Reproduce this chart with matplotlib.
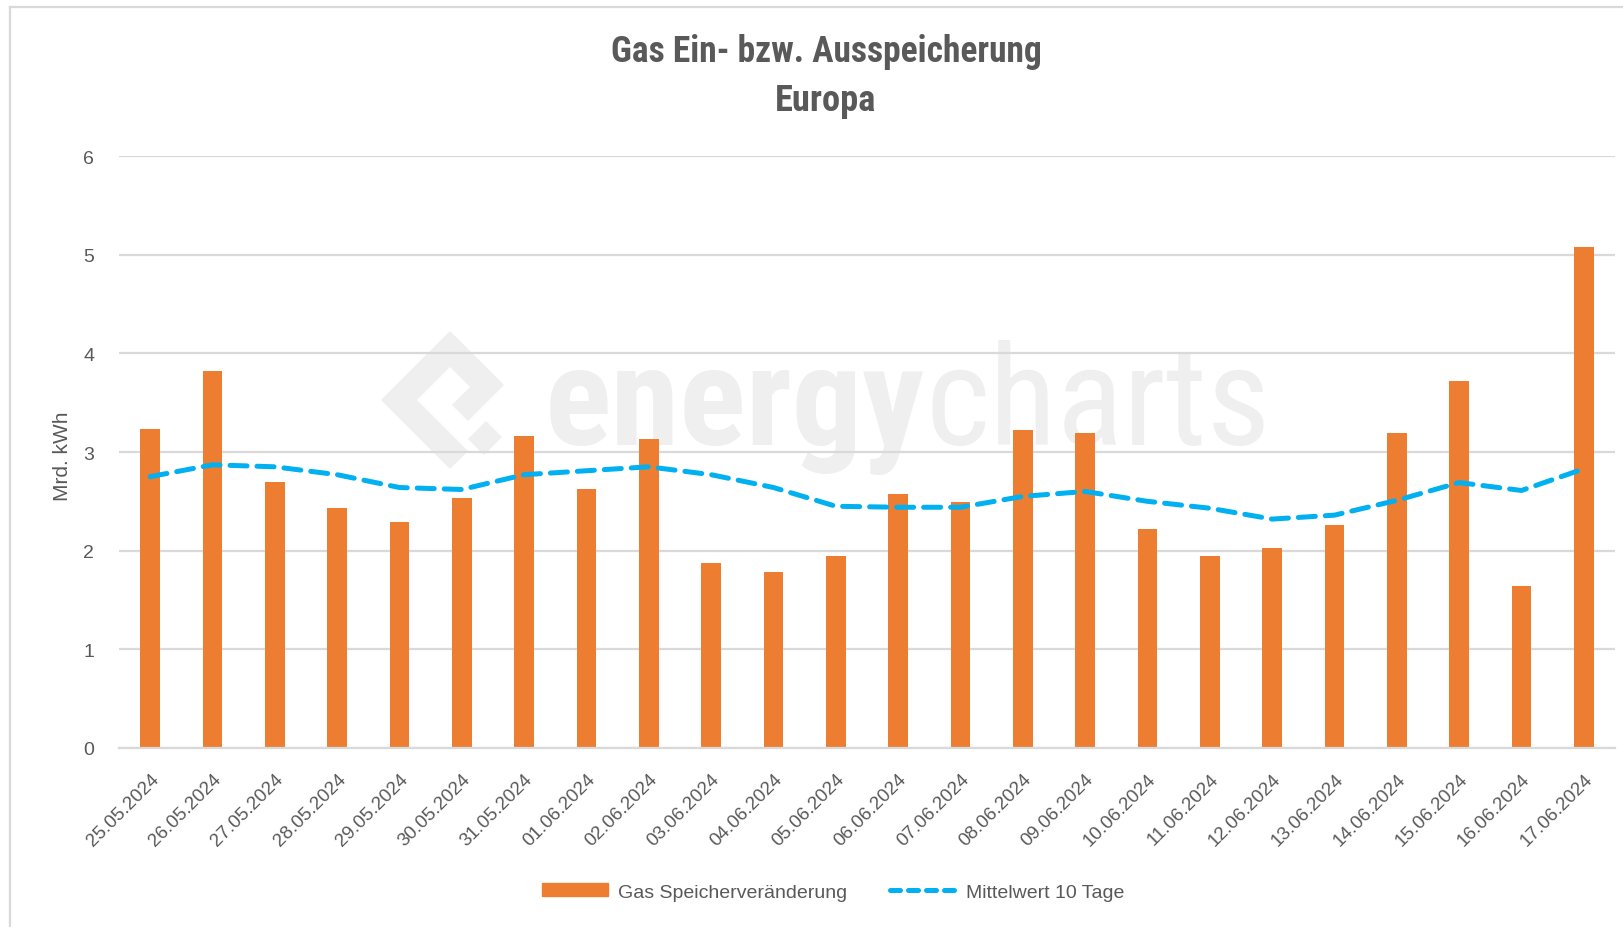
import matplotlib
matplotlib.use("Agg")
import matplotlib.pyplot as plt
from matplotlib import font_manager as fm
from matplotlib.patches import Polygon
from matplotlib.lines import Line2D

# ---------------- data ----------------
dates = ["25.05.2024", "26.05.2024", "27.05.2024", "28.05.2024", "29.05.2024", "30.05.2024",
         "31.05.2024", "01.06.2024", "02.06.2024", "03.06.2024", "04.06.2024", "05.06.2024",
         "06.06.2024", "07.06.2024", "08.06.2024", "09.06.2024", "10.06.2024", "11.06.2024",
         "12.06.2024", "13.06.2024", "14.06.2024", "15.06.2024", "16.06.2024", "17.06.2024"]
speicher = [3.23, 3.82, 2.70, 2.43, 2.29, 2.53, 3.16, 2.62, 3.13, 1.88, 1.78, 1.95,
            2.57, 2.49, 3.22, 3.19, 2.22, 1.95, 2.03, 2.26, 3.19, 3.72, 1.64, 5.08]
mittel10 = [2.75, 2.87, 2.85, 2.77, 2.64, 2.62, 2.77, 2.81, 2.85, 2.77, 2.64, 2.45,
            2.44, 2.44, 2.55, 2.60, 2.50, 2.43, 2.32, 2.36, 2.51, 2.69, 2.61, 2.83]
yticks = [0, 1, 2, 3, 4, 5, 6]
title_lines = ["Gas Ein- bzw. Ausspeicherung", "Europa"]
ylabel = "Mrd. kWh"
legend_labels = ["Gas Speicherveränderung", "Mittelwert 10 Tage"]
watermark = ["energy", "charts"]

# ---------------- fonts ----------------
REG = "Liberation Sans"
names = {f.name for f in fm.fontManager.ttflist}
if REG not in names:
    REG = "DejaVu Sans"


def _wnum(w):
    if isinstance(w, (int, float)):
        return w
    return fm.weight_dict.get(str(w), 400)


def find_condensed(bold):
    pref = ["Liberation Sans Narrow", "Roboto Condensed", "Open Sans Condensed",
            "Noto Sans", "Open Sans", "Roboto", "DejaVu Sans"]
    cands = []
    for f in fm.fontManager.ttflist:
        st = str(f.stretch)
        condensed = ("condensed" in st) or ("Narrow" in f.name) or ("Condensed" in f.name)
        if not condensed or f.style != "normal":
            continue
        w = _wnum(f.weight)
        if bold and not (600 <= w <= 800):
            continue
        if not bold and not (350 <= w <= 500):
            continue
        rank = len(pref)
        for i, p in enumerate(pref):
            if f.name.startswith(p):
                rank = i
                break
        extra = 0 if st in ("condensed", "semi-condensed") or "Narrow" in f.name else 1
        cands.append((rank, extra, f.fname))
    if not cands:
        return None
    cands.sort()
    return fm.FontProperties(fname=cands[0][2])


cond_bold = find_condensed(True)
cond_reg = find_condensed(False)
plt.rcParams["font.family"] = [REG, "DejaVu Sans"]

ORANGE = "#ED7D31"
BLUE = "#00B0F0"
TXT = "#595959"
GRID = "#D9D9D9"
WM = "#EFEFEF"

W, H = 1623, 928
fig = plt.figure(figsize=(W / 100, H / 100), dpi=100)
renderer = fig.canvas.get_renderer()


def fx(x):
    return x / W


def fy(y):
    return 1 - y / H


def text_fit(xc, yc, s, target_w, fp, **kw):
    """place text and scale its size so its width is target_w pixels"""
    t = fig.text(fx(xc), fy(yc), s, fontproperties=fp.copy(), **kw)
    t.set_fontsize(20)
    w = t.get_window_extent(renderer).width
    t.set_fontsize(20 * target_w / w)
    return t


# frame of chart area
fig.add_artist(Line2D([fx(10), fx(10)], [fy(8), fy(928)], color=GRID, lw=1.6))
fig.add_artist(Line2D([fx(10), fx(1623)], [fy(8), fy(8)], color=GRID, lw=1.6))

# watermark (behind axes)
wb = fm.FontProperties(family=REG, weight="bold") if cond_bold is None else cond_bold
wr = fm.FontProperties(family=REG) if cond_reg is None else cond_reg
t1 = fig.text(0, 0, watermark[0], fontproperties=wb.copy(), fontsize=100)
t2 = fig.text(0, 0, watermark[1], fontproperties=wr.copy(), fontsize=100)
w1 = t1.get_window_extent(renderer).width
w2 = t2.get_window_extent(renderer).width
wm_x0, wm_x1, wm_base = 545, 1271, 445
scale = (wm_x1 - wm_x0) / (w1 + w2)
for t in (t1, t2):
    t.set_fontsize(100 * scale)
    t.set_color(WM)
    t.set_zorder(-5)
    t.set_va("baseline")
    t.set_ha("left")
t1.set_position((fx(wm_x0), fy(wm_base)))
t2.set_position((fx(wm_x0 + w1 * scale), fy(wm_base)))

logo_a = [(450, 332), (381, 401), (450, 470), (468, 452), (417, 401), (450, 368),
          (470, 388), (452, 406), (468, 422), (504, 386)]
logo_b = [(486, 422), (502, 438), (484, 456), (468, 440)]
for pts in (logo_a, logo_b):
    fig.add_artist(Polygon([(fx(x), fy(y)) for x, y in pts], closed=True,
                           transform=fig.transFigure, facecolor=WM, edgecolor="none", zorder=-5))

# axes
ax = fig.add_axes([fx(119), fy(749), fx(1615) - fx(119), fy(157) - fy(749)])
ax.set_facecolor("none")
x = list(range(len(dates)))
ax.bar(x, speicher, width=0.32, color=ORANGE, zorder=2, label=legend_labels[0])
ax.plot(x, mittel10, color=BLUE, lw=3.6, dashes=(3.4, 2.0), dash_capstyle="round",
        zorder=3, label=legend_labels[1])

ax.set_xlim(-0.5, len(dates) - 0.5)
ax.set_ylim(0, 6)
ax.set_yticks(yticks)
ax.set_yticklabels([str(v) for v in yticks], fontsize=14, color=TXT)
ax.set_xticks(x)
ax.set_xticklabels(dates, rotation=45, ha="right", rotation_mode="anchor",
                   fontsize=13.5, color=TXT)
ax.tick_params(axis="y", length=0, pad=18)
ax.tick_params(axis="x", length=0, pad=16)
ax.grid(axis="y", color=GRID, lw=1.6, zorder=0)
ax.set_axisbelow(True)
for s in ["top", "right", "left"]:
    ax.spines[s].set_visible(False)
ax.spines["bottom"].set_color(GRID)
ax.spines["bottom"].set_linewidth(1.6)

fig.text(fx(62), fy(456), ylabel, rotation=90, ha="center", va="center",
         fontsize=15, color=TXT)

tb = fm.FontProperties(family=REG, weight="bold") if cond_bold is None else cond_bold
text_fit(826, 52, title_lines[0], 431, tb, ha="center", va="center", color=TXT)
text_fit(826, 101, title_lines[1], 101, tb, ha="center", va="center", color=TXT)

h1 = plt.Rectangle((0, 0), 1, 1, color=ORANGE)
h2 = Line2D([], [], color=BLUE, lw=3.6, dashes=(2.0, 1.6), dash_capstyle="round")
fig.legend([h1, h2], legend_labels, loc="center", bbox_to_anchor=(fx(833), fy(893)),
           ncol=2, frameon=False, fontsize=14, labelcolor=TXT, handlelength=3.4,
           handleheight=0.6, columnspacing=2.2, handletextpad=0.5)

fig.savefig("out.png", dpi=100)
